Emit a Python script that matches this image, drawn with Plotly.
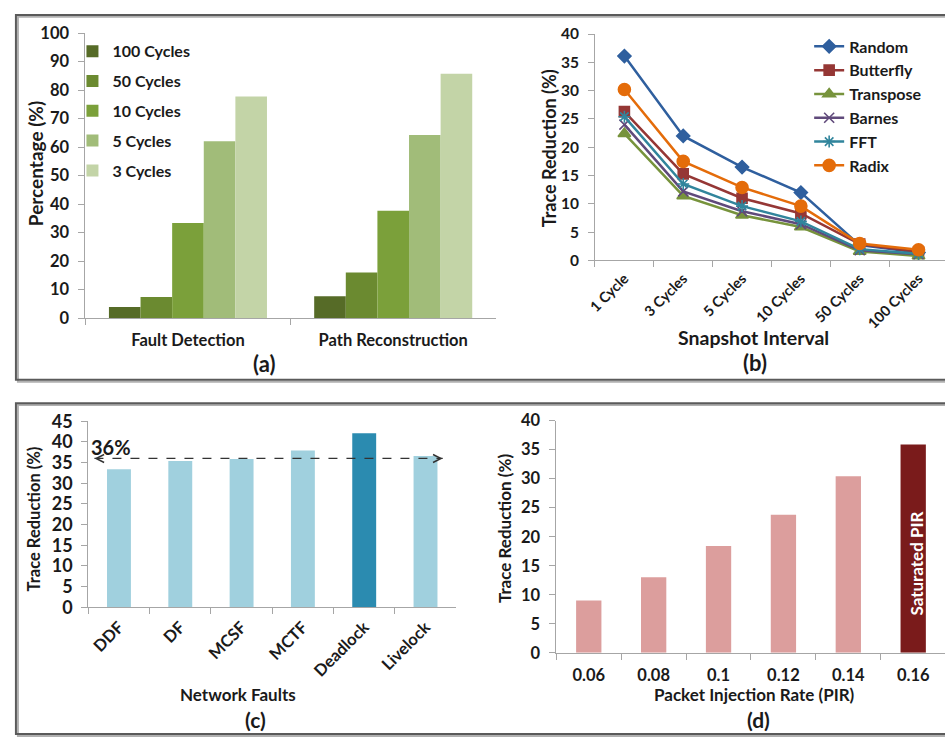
import plotly.graph_objects as go

W, H = 945, 747
FONT = "Lato"
TXT = "#1a1a1a"
AXC = "#A6A6A6"

# ---------------- data ----------------
# (a)
a_categories = ["Fault Detection", "Path Reconstruction"]
a_series = ["100 Cycles", "50 Cycles", "10 Cycles", "5 Cycles", "3 Cycles"]
a_values = {
    "100 Cycles": [3.9, 7.6],
    "50 Cycles": [7.4, 16.0],
    "10 Cycles": [33.3, 37.6],
    "5 Cycles": [62.0, 64.2],
    "3 Cycles": [77.7, 85.7],
}
a_colors = ["#566B27", "#6B8A30", "#7BA03A", "#A1BC79", "#C3D4A7"]

# (b)
b_categories = ["1 Cycle", "3 Cycles", "5 Cycles", "10 Cycles", "50 Cycles", "100 Cycles"]
b_random = [36.1, 22.0, 16.5, 12.0, 2.7, 1.4]
b_butterfly = [26.3, 15.3, 11.0, 8.3, 2.9, 1.5]
b_transpose = [22.4, 11.4, 8.0, 5.9, 1.6, 0.8]
b_barnes = [24.0, 12.2, 8.7, 6.4, 1.8, 1.1]
b_fft = [25.4, 13.5, 9.6, 6.9, 2.0, 1.2]
b_radix = [30.2, 17.5, 12.9, 9.6, 3.0, 1.9]

# (c)
c_categories = ["DDF", "DF", "MCSF", "MCTF", "Deadlock", "Livelock"]
c_values = [33.4, 35.4, 35.9, 37.9, 42.1, 36.6]
c_average = 36

# (d)
d_categories = ["0.06", "0.08", "0.1", "0.12", "0.14", "0.16"]
d_values = [9.0, 13.0, 18.4, 23.8, 30.4, 35.9]


def px_x(x):
    return x / W


def px_y(y):
    return 1 - y / H


fig = go.Figure()

# ---------------- (a) grouped bars ----------------
nA = len(a_series)
bw = 0.154
for i, (s, col) in enumerate(zip(a_series, a_colors)):
    fig.add_trace(go.Bar(
        x=a_categories, y=a_values[s], name=s,
        marker=dict(color=col, line=dict(width=0)),
        width=bw, offset=-bw * nA / 2 + i * bw,
        xaxis="x", yaxis="y", legend="legend", legendgroup=s,
    ))

# ---------------- (b) lines ----------------
b_series = [
    ("Random", b_random, "#2F5F9E", "diamond", 10),
    ("Butterfly", b_butterfly, "#953735", "square", 10),
    ("Transpose", b_transpose, "#77933C", "triangle-up", 11),
    ("Barnes", b_barnes, "#604A7B", "x-thin-open", 10),
    ("FFT", b_fft, "#31859C", "asterisk-open", 10),
    ("Radix", b_radix, "#E46C0A", "circle", 12),
]
for name, vals, col, sym, sz in b_series:
    fig.add_trace(go.Scatter(
        x=b_categories, y=vals, name=name, mode="lines+markers",
        line=dict(color=col, width=2.5),
        marker=dict(symbol=sym, size=sz, color=col, line=dict(color=col, width=1.6)),
        xaxis="x2", yaxis="y2", legend="legend2", legendgroup=name,
    ))

# ---------------- (c) bars ----------------
c_colors = ["#2B8BB0" if c == "Deadlock" else "#A0D0DE" for c in c_categories]
fig.add_trace(go.Bar(
    x=c_categories, y=c_values, width=0.39,
    marker=dict(color=c_colors, line=dict(width=0)),
    xaxis="x3", yaxis="y3", showlegend=False,
))

# ---------------- (d) bars ----------------
d_colors = ["#7A1B1B" if c == "0.16" else "#DC9E9D" for c in d_categories]
fig.add_trace(go.Bar(
    x=d_categories, y=d_values, width=0.39,
    marker=dict(color=d_colors, line=dict(width=0)),
    xaxis="x4", yaxis="y4", showlegend=False,
))

# ---------------- axes ----------------
def yax(domain, rng, dtick, fsize, anchor, standoff=7):
    return dict(
        domain=domain, range=rng, dtick=dtick, anchor=anchor,
        showgrid=False, zeroline=False, showline=True, linecolor=AXC, linewidth=1,
        ticks="outside", ticklen=6, tickcolor=AXC, tickwidth=1,
        tickfont=dict(family=FONT, size=fsize, color=TXT, weight="bold"),
        ticklabelstandoff=standoff, fixedrange=True,
    )


def xax(domain, rng, anchor, fsize, angle=0, standoff=4):
    return dict(
        domain=domain, range=rng, anchor=anchor, type="category",
        showgrid=False, zeroline=False, showline=True, linecolor=AXC, linewidth=1,
        ticks="outside", ticklen=6, tickcolor=AXC, tickwidth=1, tickson="boundaries",
        tickfont=dict(family=FONT, size=fsize, color=TXT, weight="bold"),
        tickangle=angle, ticklabelstandoff=standoff, fixedrange=True,
    )


layout = dict(
    width=W, height=H, margin=dict(l=0, r=0, t=0, b=0),
    paper_bgcolor="white", plot_bgcolor="white",
    barmode="overlay",
    font=dict(family=FONT, color=TXT),
    xaxis=xax([px_x(78), px_x(492)], [-0.5, 1.5], "y", 16.5, 0, 7),
    yaxis=yax([px_y(315.3), px_y(21.7)], [0, 100], 10, 16.5, "x", 6),
    xaxis2=xax([px_x(592), 1.0], [-0.5, 5.45], "y2", 14.5, -45, 3),
    yaxis2=yax([px_y(256), px_y(22.7)], [0, 40], 5, 15.5, "x2", 6),
    xaxis3=xax([px_x(81), px_x(452)], [-0.5, 5.5], "y3", 16.5, -45, 3),
    yaxis3=yax([px_y(613.3), px_y(421.7)], [0, 45], 5, 18, "x3", 5),
    xaxis4=xax([px_x(553), 1.0], [-0.5, 5.49], "y4", 16.5, 0, 7),
    yaxis4=yax([px_y(660.3), px_y(421)], [0, 40], 5, 16.5, "x4", 6),
    legend=dict(
        x=px_x(65), y=px_y(23), xanchor="left", yanchor="top",
        bgcolor="rgba(0,0,0,0)", font=dict(family=FONT, size=16, color=TXT, weight="bold"),
        tracegroupgap=6, traceorder="grouped", itemwidth=30,
    ),
    legend2=dict(
        x=px_x(808), y=px_y(18), xanchor="left", yanchor="top",
        bgcolor="rgba(0,0,0,0)", font=dict(family=FONT, size=16, color=TXT, weight="bold"),
        tracegroupgap=0, traceorder="grouped", itemwidth=30,
    ),
)
fig.update_layout(**layout)

# ---------------- annotations ----------------
def ann(text, x, y, size, angle=0, color=TXT, xref="paper", yref="paper", **kw):
    fig.add_annotation(text=text, x=x, y=y, xref=xref, yref=yref, showarrow=False,
                       textangle=angle, font=dict(family=FONT, size=size, color=color, weight="bold"),
                       xanchor="center", yanchor="middle", borderpad=0, **kw)

# (a)
ann("Percentage (%)", px_x(28), px_y(156), 19, -90)
ann("(a)", px_x(258), px_y(362), 22)
# (b)
ann("Trace Reduction (%)", px_x(545), px_y(140), 18, -90)
ann("Snapshot Interval", px_x(752), px_y(335), 19.5)
ann("(b)", px_x(753), px_y(361), 22)
# (c)
ann("Trace Reduction (%)", px_x(26), px_y(522), 16.5, -90)
ann("Network Faults", px_x(232), px_y(703), 17)
ann("(c)", px_x(250), px_y(729), 21)
ann("36%", px_x(104), px_y(448), 20)
# (d)
ann("Trace Reduction (%)", px_x(501), px_y(532), 17, -90)
ann("Packet Injection Rate (PIR)", px_x(753), px_y(703), 17)
ann("(d)", px_x(757), px_y(729), 21)
ann("Saturated PIR", px_x(916), px_y(568), 17, -90, color="white")

# dashed average arrow in (c)
x_start, x_end = -0.40, 5.28
fig.add_shape(type="line", xref="x3", yref="y3", x0=x_start, x1=x_end, y0=c_average, y1=c_average,
              line=dict(color="#333333", width=1.3, dash="dash"))
for tip, tail in [(x_end, x_end - 0.08), (x_start, x_start + 0.08)]:
    fig.add_annotation(x=tip, y=c_average, ax=tail, ay=c_average, xref="x3", yref="y3",
                       axref="x3", ayref="y3", text="", showarrow=True, arrowhead=5,
                       arrowsize=1.3, arrowwidth=1.2, arrowcolor="#333333")

# panel frames
def frame(x0, y0, x1, y1):
    fig.add_shape(type="rect", xref="paper", yref="paper",
                  x0=px_x(x0 + 2), x1=px_x(x1 + 2), y0=px_y(y1 + 2), y1=px_y(y0 + 2),
                  line=dict(color="#B0B0B0", width=2), layer="below")
    fig.add_shape(type="rect", xref="paper", yref="paper",
                  x0=px_x(x0), x1=px_x(x1), y0=px_y(y1), y1=px_y(y0),
                  line=dict(color="#5A5A5A", width=2), layer="below")

frame(8, 3, 960, 379)
frame(8, 403, 960, 744)

fig.write_html("out.html")
